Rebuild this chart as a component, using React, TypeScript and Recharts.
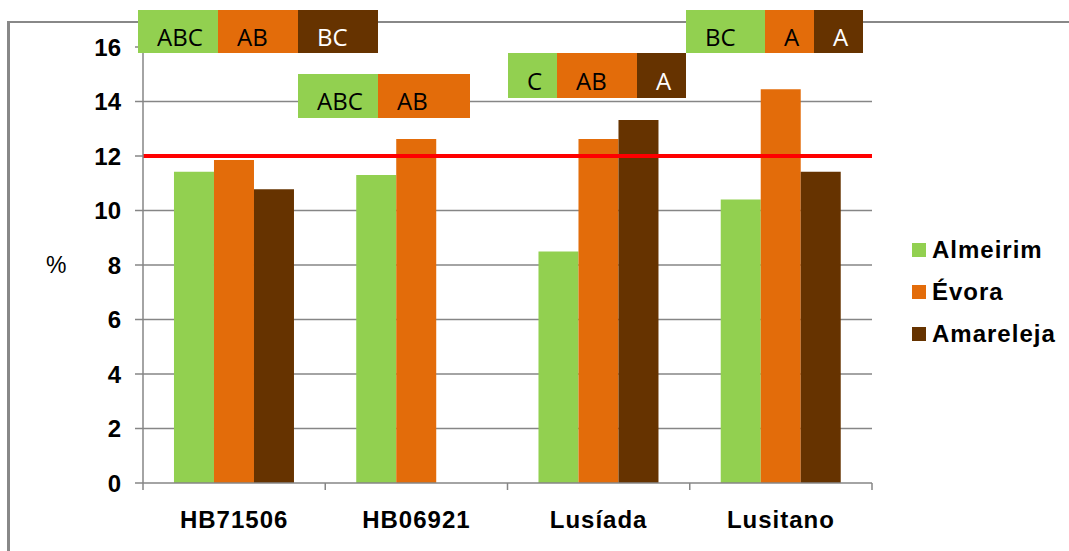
import React from 'react';
import {
  BarChart, Bar, XAxis, YAxis, CartesianGrid, ReferenceLine, Legend,
} from 'recharts';

// protein content (%) per variety and location
const varieties = ['HB71506', 'HB06921', 'Lusíada', 'Lusitano'];
const almeirim = [11.42, 11.3, 8.5, 10.4];
const evora = [11.85, 12.62, 12.62, 14.45];
const amareleja: (number | null)[] = [10.78, null, 13.32, 11.42];
const yTicks = [0, 2, 4, 6, 8, 10, 12, 14, 16];
const threshold = 12;

// significance letters per variety (Almeirim, Évora, Amareleja)
const letters = [
  ['ABC', 'AB', 'BC'],
  ['ABC', 'AB'],
  ['C', 'AB', 'A'],
  ['BC', 'A', 'A'],
];

const SERIES = [
  { key: 'almeirim', name: 'Almeirim', color: '#92d050', text: '#000' },
  { key: 'evora', name: 'Évora', color: '#e36c0a', text: '#000' },
  { key: 'amareleja', name: 'Amareleja', color: '#663300', text: '#fff' },
];

// placement of the letter boxes: left edge, top, height, cell widths
const BOXES = [
  { left: 138, top: 10, height: 43, widths: [80, 80, 80] },
  { left: 298, top: 74, height: 44, widths: [80, 92] },
  { left: 508, top: 53, height: 45, widths: [49, 80, 49] },
  { left: 686, top: 10, height: 43, widths: [79, 49, 49] },
];

const W = 1069;
const H = 551;
const PLOT_LEFT = 143;
const PLOT_RIGHT = 872;
const BAND = (PLOT_RIGHT - PLOT_LEFT) / varieties.length;
const GRID = '#868686';
const FONT = '"Liberation Sans", Arial, sans-serif';

const data = varieties.map((name, i) => ({
  name,
  almeirim: almeirim[i],
  evora: evora[i],
  amareleja: amareleja[i],
}));

function XTick(props: any) {
  const { x, y, payload, index } = props;
  const left = x - BAND / 2;
  return (
    <g>
      <line x1={left} y1={y} x2={left} y2={y + 7} stroke={GRID} strokeWidth={1.5} />
      {index === varieties.length - 1 && (
        <line x1={x + BAND / 2} y1={y} x2={x + BAND / 2} y2={y + 7} stroke={GRID} strokeWidth={1.5} />
      )}
      <text x={x} y={y + 45} textAnchor="middle" fontFamily={FONT} fontSize={24}
        fontWeight="bold" letterSpacing={1} fill="#000">
        {payload.value}
      </text>
    </g>
  );
}

function LegendBox() {
  return (
    <div style={{ fontFamily: FONT }}>
      {SERIES.map((s, i) => (
        <div key={s.key} style={{ position: 'absolute', left: 0, top: i * 42, display: 'flex', alignItems: 'center', height: 28 }}>
          <div style={{ width: 14, height: 14, background: s.color }} />
          <span style={{ marginLeft: 6, fontSize: 24, fontWeight: 'bold', letterSpacing: 1, color: '#000', whiteSpace: 'nowrap' }}>
            {s.name}
          </span>
        </div>
      ))}
    </div>
  );
}

export default function App() {
  return (
    <div style={{ position: 'absolute', left: 0, top: 0, width: W, height: H, background: '#fff', overflow: 'hidden' }}>
      {/* chart frame (top and left edges only) */}
      <div style={{ position: 'absolute', left: 7, top: 21, width: W, height: H, borderTop: '2px solid #888', borderLeft: '3px solid #888' }} />

      <div style={{ position: 'absolute', left: 0, top: 0 }}>
        <BarChart width={W} height={H} data={data}
          margin={{ top: 47, right: W - PLOT_RIGHT, bottom: 0, left: 0 }}
          barCategoryGap="17%" barGap={0}>
          <CartesianGrid vertical={false} horizontalValues={[2, 4, 6, 8, 10, 12, 14]} stroke={GRID} strokeWidth={1.5} />
          <XAxis dataKey="name" height={68} axisLine={{ stroke: GRID, strokeWidth: 1.5 }}
            tickLine={false} tickSize={0} tickMargin={0} tick={<XTick />} interval={0} />
          <YAxis width={143} domain={[0, 16]} ticks={yTicks} interval={0}
            axisLine={{ stroke: GRID, strokeWidth: 1.5 }} tickLine={{ stroke: GRID, strokeWidth: 1.5 }}
            tickSize={8} tickMargin={14}
            tick={{ fontFamily: FONT, fontSize: 24, fontWeight: 'bold', fill: '#000' }}
            label={{ value: '%', position: 'insideLeft', offset: 46, fontFamily: FONT, fontSize: 23, fill: '#000' }} />
          {SERIES.map(s => (
            <Bar key={s.key} dataKey={s.key} name={s.name} fill={s.color} isAnimationActive={false} />
          ))}
          <ReferenceLine y={threshold} stroke="#ff0000" strokeWidth={4} />
          <Legend layout="vertical" align="center" verticalAlign="middle"
            wrapperStyle={{ left: 912, top: 236, width: 150, height: 120 }}
            content={<LegendBox />} />
        </BarChart>
      </div>

      {/* significance letter boxes */}
      {BOXES.map((b, gi) => {
        let x = b.left;
        return letters[gi].map((txt, si) => {
          const cellLeft = x;
          x += b.widths[si];
          return (
            <div key={`${gi}-${si}`} style={{
              position: 'absolute', left: cellLeft, top: b.top, width: b.widths[si], height: b.height,
              boxSizing: 'border-box', paddingTop: 9, paddingLeft: 19,
              display: 'flex', alignItems: 'center',
              background: SERIES[si].color, color: SERIES[si].text,
              fontFamily: '"Open Sans", sans-serif', fontSize: 24, whiteSpace: 'nowrap',
            }}>
              {txt}
            </div>
          );
        });
      })}
    </div>
  );
}
